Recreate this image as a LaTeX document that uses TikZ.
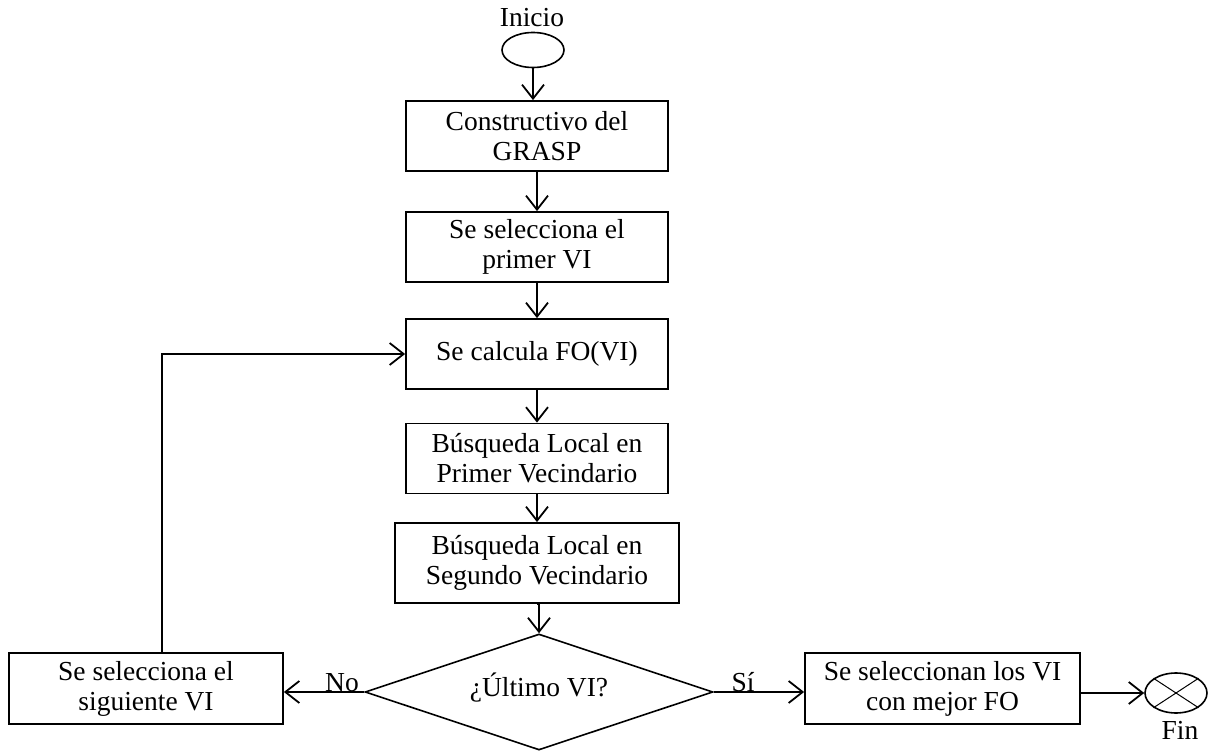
\documentclass[tikz,border=0pt]{standalone}
\usepackage{fontspec}
\setmainfont{Liberation Serif}
\usetikzlibrary{shapes.geometric,arrows.meta}
\begin{document}
\begin{tikzpicture}[x=1pt,y=-1pt,
  every node/.style={font=\fontsize{27.5}{30}\selectfont},
  procbox/.style={draw,line width=1.8pt,rectangle,align=center,inner sep=0pt,minimum width=262pt,minimum height=70pt},
  termin/.style={draw,line width=1.6pt,ellipse,inner sep=0pt,minimum width=62pt,minimum height=35pt},
  decis/.style={draw,line width=1.6pt,diamond,aspect=3,inner sep=0pt,minimum width=348pt,minimum height=116pt},
  lbl/.style={inner sep=0pt},
  conn/.style={line width=1.8pt,-{Straight Barb[length=14pt,width=22pt,line width=1.8pt]}}]
\useasboundingbox (0,0) rectangle (1211,751);
\node[termin] (ini) at (533,50) {};
\node[lbl] (initxt) at (532,18) {Inicio};
\node[procbox] (b1) at (537,136) {Constructivo del\\GRASP};
\node[procbox] (b2) at (537,247) {Se selecciona el\\primer VI};
\node[procbox] (b3) at (537,354) {Se calcula FO(VI)};
\node[procbox] (b4) at (537,458.5) {Búsqueda Local en\\Primer Vecindario};
\node[procbox,minimum width=284pt,minimum height=80pt] (b5) at (537,563) {Búsqueda Local en\\Segundo Vecindario};
\node[decis] (d) at (539,692) {};
\node[lbl] (dtxt) at (539,688) {¿Último VI?};
\node[procbox,minimum width=274pt,minimum height=71pt] (lb) at (146,688.5) {Se selecciona el\\siguiente VI};
\node[procbox,minimum width=275pt,minimum height=71pt] (rb) at (942.5,688.5) {Se seleccionan los VI\\con mejor FO};
\node[termin,minimum height=40pt] (fin) at (1176,693) {};
\node[lbl] (fintxt) at (1180,730) {Fin};
\node[lbl] (no) at (342,683) {No};
\node[lbl] (si) at (743,682) {Sí};
\coordinate (lbtop) at (162,653);
\draw[line width=1pt] (fin.north west) -- (fin.south east);
\draw[line width=1pt] (fin.north east) -- (fin.south west);
\draw[conn] (ini.south) -- (ini.south |- b1.north);
\draw[conn] (b1) -- (b2);
\draw[conn] (b2) -- (b3);
\draw[conn] (b3) -- (b4);
\draw[conn] (b4) -- (b5);
\draw[conn] (b5.south) -- (b5.south -| d.north) -- (d.north);
\draw[conn] (d.west) -- (d.west -| lb.east);
\draw[conn] (d.east) -- (d.east -| rb.west);
\draw[conn] (rb.east |- fin.west) -- (fin.west);
\draw[conn] (lbtop) |- (b3.west);
\end{tikzpicture}
\end{document}
